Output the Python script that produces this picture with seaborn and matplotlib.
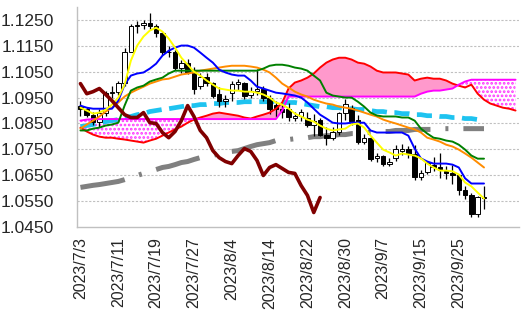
import numpy as np
import pandas as pd
import matplotlib
matplotlib.use("Agg")
import matplotlib.pyplot as plt
import seaborn as sns

# ---------------- data ----------------
dates = ["2023/7/3","2023/7/4","2023/7/5","2023/7/6","2023/7/7","2023/7/10","2023/7/11","2023/7/12",
         "2023/7/13","2023/7/14","2023/7/17","2023/7/18","2023/7/19","2023/7/20","2023/7/21","2023/7/24",
         "2023/7/25","2023/7/26","2023/7/27","2023/7/28","2023/7/31","2023/8/1","2023/8/2","2023/8/3",
         "2023/8/4","2023/8/7","2023/8/8","2023/8/9","2023/8/10","2023/8/11","2023/8/14","2023/8/15",
         "2023/8/16","2023/8/17","2023/8/18","2023/8/21","2023/8/22","2023/8/23","2023/8/24","2023/8/25",
         "2023/8/28","2023/8/29","2023/8/30","2023/8/31","2023/9/1","2023/9/4","2023/9/5","2023/9/6",
         "2023/9/7","2023/9/8","2023/9/11","2023/9/12","2023/9/13","2023/9/14","2023/9/15","2023/9/18",
         "2023/9/19","2023/9/20","2023/9/21","2023/9/22","2023/9/25","2023/9/26","2023/9/27","2023/9/28",
         "2023/9/29","","","","",""]

opens  = [1.0918,1.0905,1.0882,1.0855,1.0890,1.0968,1.0972,1.1008,1.1128,1.1225,1.1232,1.1238,1.1228,1.1198,
          1.1128,1.1125,1.1065,1.1085,1.1050,1.0995,1.1030,1.1005,1.0962,1.0935,1.0968,1.1003,1.1008,1.0960,
          1.0975,1.0982,1.0948,1.0920,1.0905,1.0905,1.0870,1.0880,1.0870,1.0845,1.0862,1.0805,1.0792,1.0818,
          1.0890,1.0910,1.0862,1.0778,1.0795,1.0718,1.0723,1.0695,1.0718,1.0745,1.0752,1.0732,1.0642,1.0662,
          1.0690,1.0680,1.0668,1.0660,1.0650,1.0592,1.0572,1.0502,1.0565]
highs  = [1.0935,1.0915,1.0895,1.0905,1.0975,1.0995,1.1015,1.1140,1.1235,1.1245,1.1248,1.1278,1.1235,1.1205,
          1.1150,1.1135,1.1095,1.1100,1.1070,1.1045,1.1045,1.1010,1.0990,1.0960,1.1015,1.1020,1.1012,1.0990,
          1.1062,1.0995,1.0960,1.0935,1.0930,1.0930,1.0895,1.0905,1.0895,1.0885,1.0870,1.0835,1.0835,1.0895,
          1.0945,1.0920,1.0882,1.0810,1.0800,1.0735,1.0730,1.0715,1.0765,1.0770,1.0762,1.0765,1.0672,1.0705,
          1.0720,1.0735,1.0685,1.0690,1.0655,1.0610,1.0580,1.0570,1.0610]
lows   = [1.0880,1.0875,1.0845,1.0835,1.0880,1.0950,1.0960,1.0995,1.1125,1.1200,1.1215,1.1215,1.1185,1.1115,
          1.1105,1.1055,1.1045,1.1040,1.0965,1.0985,1.0995,1.0950,1.0915,1.0912,1.0935,1.0980,1.0945,1.0950,
          1.0960,1.0935,1.0885,1.0875,1.0870,1.0860,1.0858,1.0860,1.0835,1.0800,1.0800,1.0765,1.0785,1.0805,
          1.0865,1.0845,1.0770,1.0770,1.0705,1.0700,1.0685,1.0685,1.0705,1.0730,1.0715,1.0632,1.0630,1.0655,
          1.0665,1.0640,1.0635,1.0615,1.0575,1.0560,1.0488,1.0490,1.0520]
closes = [1.0905,1.0882,1.0855,1.0890,1.0968,1.0972,1.1008,1.1128,1.1225,1.1232,1.1238,1.1228,1.1198,1.1128,
          1.1125,1.1065,1.1085,1.1050,1.0985,1.1030,1.1005,1.0958,1.0935,1.0945,1.1003,1.1010,1.0957,1.0975,
          1.0982,1.0948,1.0905,1.0905,1.0895,1.0875,1.0880,1.0895,1.0845,1.0860,1.0805,1.0795,1.0818,1.0890,
          1.0925,1.0858,1.0778,1.0795,1.0714,1.0724,1.0695,1.0700,1.0752,1.0753,1.0732,1.0642,1.0660,1.0698,
          1.0680,1.0670,1.0660,1.0652,1.0592,1.0572,1.0502,1.0565,1.0562]

ma5 = [1.0911,1.0900,1.0888,1.0892,1.0903,1.0923,1.0950,1.1000,1.1093,1.1151,1.1186,1.1209,1.1220,1.1205,
       1.1178,1.1143,1.1104,1.1077,1.1050,1.1035,1.1016,1.1000,1.0985,1.0981,1.0977,1.0977,1.0973,1.0973,
       1.0969,1.0962,1.0950,1.0931,1.0923,1.0908,1.0888,1.0877,1.0865,1.0857,1.0842,1.0830,1.0823,1.0827,
       1.0830,1.0846,1.0850,1.0834,1.0803,1.0776,1.0749,1.0738,1.0726,1.0734,1.0730,1.0726,1.0715,1.0695,
       1.0680,1.0668,1.0668,1.0665,1.0653,1.0622,1.0607,1.0583,1.0560]
tenkan = [1.0919,1.0911,1.0907,1.0907,1.0907,1.0907,1.0938,1.1000,1.1035,1.1043,1.1047,1.1062,1.1081,1.1112,
          1.1131,1.1143,1.1151,1.1151,1.1143,1.1124,1.1104,1.1085,1.1058,1.1047,1.1039,1.1035,1.1035,1.1016,
          1.0992,1.0985,1.0977,1.0969,1.0966,1.0962,1.0958,1.0950,1.0931,1.0907,1.0884,1.0869,1.0853,1.0850,
          1.0850,1.0853,1.0853,1.0853,1.0823,1.0815,1.0815,1.0815,1.0815,1.0815,1.0803,1.0753,1.0715,1.0703,
          1.0695,1.0695,1.0695,1.0691,1.0680,1.0638,1.0618,1.0618,1.0618]
kijun = [1.0823,1.0823,1.0830,1.0834,1.0842,1.0846,1.0853,1.0919,1.0977,1.0989,1.0996,1.1012,1.1020,1.1027,
         1.1043,1.1054,1.1054,1.1054,1.1054,1.1054,1.1054,1.1054,1.1054,1.1054,1.1054,1.1054,1.1054,1.1054,
         1.1054,1.1062,1.1073,1.1077,1.1077,1.1073,1.1066,1.1062,1.1054,1.1035,1.1016,1.0969,1.0958,1.0954,
         1.0950,1.0950,1.0934,1.0915,1.0892,1.0881,1.0877,1.0877,1.0877,1.0873,1.0873,1.0861,1.0830,1.0811,
         1.0795,1.0791,1.0784,1.0780,1.0768,1.0749,1.0726,1.0714,1.0714]
ma25 = [1.0830,1.0846,1.0861,1.0877,1.0896,1.0911,1.0931,1.0954,1.0969,1.0981,1.0992,1.1004,1.1012,1.1020,
        1.1023,1.1031,1.1039,1.1043,1.1047,1.1054,1.1058,1.1062,1.1066,1.1070,1.1073,1.1073,1.1073,1.1070,
        1.1066,1.1058,1.1047,1.1027,1.1004,1.0989,1.0973,1.0962,1.0954,1.0942,1.0934,1.0927,1.0923,1.0915,
        1.0911,1.0907,1.0900,1.0892,1.0884,1.0877,1.0865,1.0857,1.0850,1.0842,1.0834,1.0827,1.0815,1.0795,
        1.0788,1.0780,1.0768,1.0761,1.0749,1.0734,1.0718,1.0699,1.0680]
ma75 = [1.0838,1.0842,1.0846,1.0853,1.0857,1.0861,1.0865,1.0873,1.0877,1.0884,1.0888,1.0896,1.0900,1.0904,
        1.0907,1.0911,1.0915,1.0919,1.0919,1.0923,1.0923,1.0927,1.0927,1.0931,1.0931,1.0931,1.0934,1.0934,
        1.0934,1.0934,1.0934,1.0934,1.0931,1.0931,1.0931,1.0927,1.0923,1.0919,1.0915,1.0915,1.0911,1.0911,
        1.0907,1.0907,1.0904,1.0904,1.0900,1.0896,1.0896,1.0892,1.0892,1.0888,1.0888,1.0884,1.0884,1.0880,
        1.0880,1.0877,1.0877,1.0873,1.0873,1.0869,1.0869,1.0865,1.0865]
ma200 = [1.0603,1.0607,1.0611,1.0614,1.0618,1.0622,1.0626,1.0633,1.0641,1.0649,1.0657,1.0665,1.0672,1.0680,
         1.0684,1.0691,1.0699,1.0703,1.0711,1.0718,1.0722,1.0726,1.0734,1.0738,1.0742,1.0745,1.0753,1.0761,
         1.0768,1.0772,1.0776,1.0784,1.0784,1.0788,1.0791,1.0791,1.0795,1.0799,1.0799,1.0803,1.0803,1.0807,
         1.0807,1.0811,1.0811,1.0815,1.0815,1.0815,1.0819,1.0819,1.0823,1.0823,1.0823,1.0827,1.0827,1.0827,
         1.0827,1.0830,1.0830,1.0830,1.0830,1.0830,1.0830,1.0830,1.0830]
span_a = [1.0834,1.0819,1.0807,1.0799,1.0795,1.0795,1.0791,1.0788,1.0784,1.0780,1.0776,1.0784,1.0791,1.0803,
          1.0815,1.0827,1.0838,1.0853,1.0865,1.0873,1.0880,1.0888,1.0892,1.0888,1.0884,1.0880,1.0873,1.0869,
          1.0877,1.0884,1.0892,1.0907,1.0931,1.0985,1.1008,1.1016,1.1027,1.1043,1.1066,1.1085,1.1097,1.1104,
          1.1104,1.1097,1.1085,1.1081,1.1070,1.1054,1.1047,1.1047,1.1047,1.1043,1.1039,1.1016,1.1023,1.1027,
          1.1023,1.1023,1.1016,1.1004,1.0996,1.0989,1.1000,1.0965,1.0942,1.0927,1.0919,1.0911,1.0907,1.0900]
span_b = [1.0861,1.0865,1.0867,1.0867,1.0867,1.0867,1.0867,1.0867,1.0867,1.0867,1.0867,1.0867,1.0867,1.0867,
          1.0867,1.0867,1.0867,1.0867,1.0867,1.0867,1.0867,1.0867,1.0867,1.0867,1.0867,1.0867,1.0867,1.0867,
          1.0867,1.0867,1.0867,1.0867,1.0900,1.0954,1.0954,1.0954,1.0954,1.0954,1.0954,1.0954,1.0954,1.0954,
          1.0954,1.0954,1.0954,1.0954,1.0954,1.0954,1.0954,1.0954,1.0954,1.0954,1.0954,1.0954,1.0965,1.0973,
          1.0977,1.0977,1.0981,1.0985,1.1000,1.1012,1.1019,1.1019,1.1019,1.1019,1.1019,1.1019,1.1019,1.1019]
chikou = [1.1004,1.0965,1.0973,1.0985,1.0962,1.0938,1.0911,1.0884,1.0873,1.0873,1.0892,1.0853,1.0850,1.0815,
          1.0795,1.0819,1.0861,1.0919,1.0877,1.0823,1.0795,1.0745,1.0718,1.0703,1.0695,1.0726,1.0753,1.0742,
          1.0707,1.0649,1.0680,1.0691,1.0676,1.0661,1.0657,1.0610,1.0572,1.0506,1.0564]

yticks = [1.0450, 1.0550, 1.0650, 1.0750, 1.0850, 1.0950, 1.1050, 1.1150, 1.1250]

# ---------------- figure ----------------
sns.set_theme(style="white")
plt.rcParams["font.family"] = ["Liberation Sans", "DejaVu Sans"]
plt.rcParams["hatch.linewidth"] = 1.3

fig = plt.figure(figsize=(5.26, 3.33), dpi=100)
ax = fig.add_axes([77.3 / 526, 1 - 227 / 333, (519 - 77.3) / 526, (227 - 7) / 333])

n_all = len(dates)
idx_all = np.arange(n_all)
n = len(closes)
idx = np.arange(n)

for yv in yticks[1:]:
    ax.axhline(yv, color="#C0C0C0", lw=0.8, ls=(0, (2, 1.5)), zorder=0)

# cloud
sa = np.array(span_a)
sb = np.array(span_b)
ax.fill_between(idx_all, sa, sb, where=sa >= sb, interpolate=True,
                facecolor="#FF99CC", edgecolor="none", zorder=1)
ax.fill_between(idx_all, sa, sb, where=sb > sa, interpolate=True,
                facecolor="white", edgecolor="#FF33FF", hatch="....", linewidth=0, zorder=1)

def line(vals, color, lw, ls="-", z=3):
    v = np.array(vals, dtype=float)
    d = pd.DataFrame({"x": np.arange(len(v)), "y": v})
    sns.lineplot(data=d, x="x", y="y", ax=ax, color=color, linewidth=lw,
                 linestyle=ls, zorder=z, legend=False)

line(ma200, "#808080", 3.6, (0, (9, 3, 0.6, 3)), 2)
line(ma75, "#1EC3F0", 3.4, (0, (3.2, 1.6)), 2)

# candles
o = np.array(opens); c = np.array(closes); h = np.array(highs); l = np.array(lows)
up = c >= o
ax.vlines(idx, l, h, color="black", lw=0.9, zorder=4)
ax.bar(idx[up], (c - o)[up], bottom=o[up], width=0.72, color="white",
       edgecolor="black", linewidth=0.7, zorder=5)
ax.bar(idx[~up], (o - c)[~up], bottom=c[~up], width=0.72, color="black",
       edgecolor="black", linewidth=0.7, zorder=5)

line(span_a, "#FF0000", 1.4, "-", 6)
line(span_b, "#FF00FF", 1.4, "-", 6)
line(ma25, "#FF8C00", 1.4, "-", 6)
line(kijun, "#008000", 1.4, "-", 6)
line(tenkan, "#0000FF", 1.4, "-", 6)
line(ma5, "#FFFF00", 1.4, "-", 7)
line(chikou, "#800000", 2.6, "-", 7)

ax.set_xlim(-0.5, n_all - 0.45)
ax.set_ylim(1.045, 1.13)
ax.set_yticks(yticks)
ax.set_yticklabels([f"{v:.4f}" for v in yticks], fontsize=12.5)
xt = list(range(0, 61, 6))
ax.set_xticks(xt)
ax.set_xticklabels([dates[i] for i in xt], rotation=90, fontsize=11.5)
ax.tick_params(axis="y", length=0, pad=17)
ax.tick_params(axis="x", length=0, pad=7.5)
ax.set_xlabel(""); ax.set_ylabel("")
for s in ["top", "right"]:
    ax.spines[s].set_visible(False)
for s in ["left", "bottom"]:
    ax.spines[s].set_color("#C0C0C0")
    ax.spines[s].set_linewidth(1.0)
ax.grid(False)

fig.savefig("out.png", dpi=100)
